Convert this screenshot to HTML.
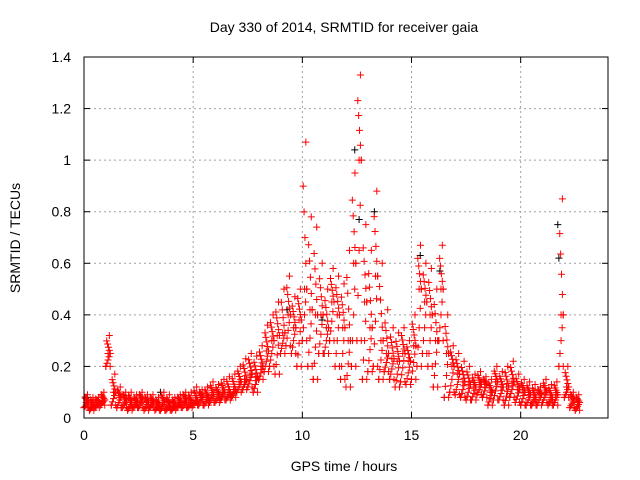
<!DOCTYPE html>
<html><head><meta charset="utf-8"><style>
html,body{margin:0;padding:0;background:#fff}
svg{display:block;font-family:"Liberation Sans",sans-serif}
</style></head><body>
<svg id="chart" width="640" height="480" viewBox="0 0 640 480">
<text x="344" y="32" font-size="14" text-anchor="middle" fill="#000">Day 330 of 2014, SRMTID for receiver gaia</text>
<text x="344" y="471" font-size="14" text-anchor="middle" fill="#000">GPS time / hours</text>
<text x="0" y="0" font-size="14" text-anchor="middle" fill="#000" transform="translate(20,238) rotate(-90)">SRMTID / TECUs</text>
<g id="grid"></g>
<g id="ticks"></g>
<g id="pts"></g>
<rect x="84" y="57" width="524" height="361" fill="none" stroke="#000" stroke-width="1"/>
</svg>
<script>
const xTicks=[0,5,10,15,20];
const yTicks=[0,0.2,0.4,0.6,0.8,1,1.2,1.4];
const yTickLabels=["0","0.2","0.4","0.6","0.8","1","1.2","1.4"];
const binStart=0, binStep=0.25;
const hiVals=[0.09,0.08,0.08,0.1,0.32,0.17,0.12,0.1,0.1,0.09,0.1,0.09,0.09,0.08,0.1,0.09,0.08,0.09,0.1,0.1,0.12,0.11,0.12,0.14,0.13,0.15,0.16,0.17,0.2,0.23,0.25,0.24,0.28,0.36,0.4,0.45,0.5,0.55,0.47,0.5,1.07,0.78,0.74,0.6,0.5,0.58,0.55,0.52,0.65,0.95,1.33,0.75,0.65,0.88,0.6,0.42,0.35,0.33,0.35,0.3,0.4,0.67,0.6,0.58,0.5,0.67,0.4,0.28,0.25,0.22,0.2,0.17,0.18,0.16,0.15,0.2,0.18,0.2,0.22,0.17,0.15,0.14,0.13,0.12,0.15,0.13,0.14,0.85,0.2,0.1,0.09];
const midVals=[0.06,0.05,0.06,0.07,0.25,0.1,0.08,0.07,0.06,0.06,0.07,0.06,0.06,0.05,0.06,0.05,0.05,0.06,0.07,0.06,0.07,0.08,0.08,0.09,0.09,0.1,0.1,0.11,0.14,0.15,0.17,0.16,0.2,0.26,0.3,0.32,0.33,0.4,0.35,0.38,0.5,0.42,0.4,0.4,0.35,0.45,0.4,0.35,0.3,0.6,1.0,0.45,0.35,0.55,0.3,0.25,0.23,0.22,0.25,0.22,0.28,0.5,0.45,0.4,0.3,0.5,0.25,0.2,0.17,0.14,0.13,0.12,0.13,0.13,0.1,0.14,0.12,0.12,0.14,0.11,0.1,0.09,0.08,0.09,0.1,0.08,0.09,0.4,0.12,0.07,0.06];
const loVals=[0.04,0.03,0.04,0.05,0.2,0.05,0.04,0.04,0.03,0.04,0.04,0.03,0.04,0.03,0.03,0.03,0.03,0.04,0.04,0.04,0.05,0.05,0.05,0.06,0.06,0.07,0.07,0.08,0.1,0.11,0.12,0.1,0.15,0.18,0.2,0.17,0.25,0.28,0.25,0.2,0.3,0.2,0.15,0.25,0.25,0.3,0.2,0.15,0.12,0.2,0.3,0.15,0.18,0.2,0.15,0.18,0.15,0.12,0.14,0.13,0.15,0.2,0.25,0.2,0.12,0.3,0.08,0.1,0.09,0.08,0.07,0.07,0.09,0.08,0.05,0.07,0.07,0.05,0.08,0.06,0.05,0.05,0.05,0.05,0.06,0.05,0.05,0.2,0.08,0.04,0.03];
const blackTimes=[0.1,3.5,9.3,10.9,12.4,12.6,13.3,15.4,16.3,21.7,21.75,21.8];
const blackVals=[0.08,0.1,0.42,0.38,1.04,0.77,0.8,0.63,0.57,0.75,0.62,0.25];
const NS="http://www.w3.org/2000/svg";
const X0=84,X1=608,Y0=418,Y1=57,xMax=24,yMax=1.4;
const xs=v=>X0+(X1-X0)*v/xMax;
const ys=v=>Y0-(Y0-Y1)*v/yMax;
const grid=document.getElementById('grid'),ticks=document.getElementById('ticks'),pts=document.getElementById('pts');
function mk(tag,at,parent){const e=document.createElementNS(NS,tag);for(const k in at)e.setAttribute(k,at[k]);parent.appendChild(e);return e;}
xTicks.forEach(t=>{
  const x=xs(t);
  if(t>0){const g=mk('line',{x1:x,x2:x,y1:Y0,y2:Y1,stroke:'#a0a0a0','stroke-dasharray':'2,3'},grid);
  
  }
  mk('line',{x1:x,x2:x,y1:Y0,y2:Y0-6,stroke:'#000'},ticks);
  mk('line',{x1:x,x2:x,y1:Y1,y2:Y1+6,stroke:'#000'},ticks);
  const l=mk('text',{x:x,y:Y0+22,'font-size':14,'text-anchor':'middle'},ticks);l.textContent=t;
  
  
});
yTicks.forEach((t,i)=>{
  const y=ys(t);
  if(t>0&&t<1.4){const g=mk('line',{x1:X0,x2:X1,y1:y,y2:y,stroke:'#a0a0a0','stroke-dasharray':'2,3'},grid);
  
  }
  mk('line',{x1:X0,x2:X0+6,y1:y,y2:y,stroke:'#000'},ticks);
  mk('line',{x1:X1,x2:X1-6,y1:y,y2:y,stroke:'#000'},ticks);
  const l=mk('text',{x:X0-13,y:y+5,'font-size':14,'text-anchor':'end'},ticks);l.textContent=yTickLabels[i];
  
  
});
function cross(t,v,col){
  const x=xs(t),y=ys(v);
  const p=mk('path',{d:`M${x-3.5},${y}h7M${x},${y-3.5}v7`,stroke:col,'stroke-width':1,fill:'none'},pts);
  
  
}
blackTimes.forEach((t,i)=>cross(t,blackVals[i],'#000'));
const fr=[0,0.25,0.5,0.75,1];
hiVals.forEach((h,i)=>{
  const t=binStart+i*binStep;
  const lo=loVals[i],mid=midVals[i];
  cross(t,lo,'#ff0000');
  cross(t+0.2,lo,'#ff0000');
  cross(t+0.1,mid,'#ff0000');
  cross(t+0.16,h,'#ff0000');
  fr.forEach((f,k)=>{
    cross(t+0.05*k,lo+(mid-lo)*f,'#ff0000');
    cross(t+0.2-0.04*k,mid+(h-mid)*f*0.7,'#ff0000');
  });
});
</script>
</body></html>
